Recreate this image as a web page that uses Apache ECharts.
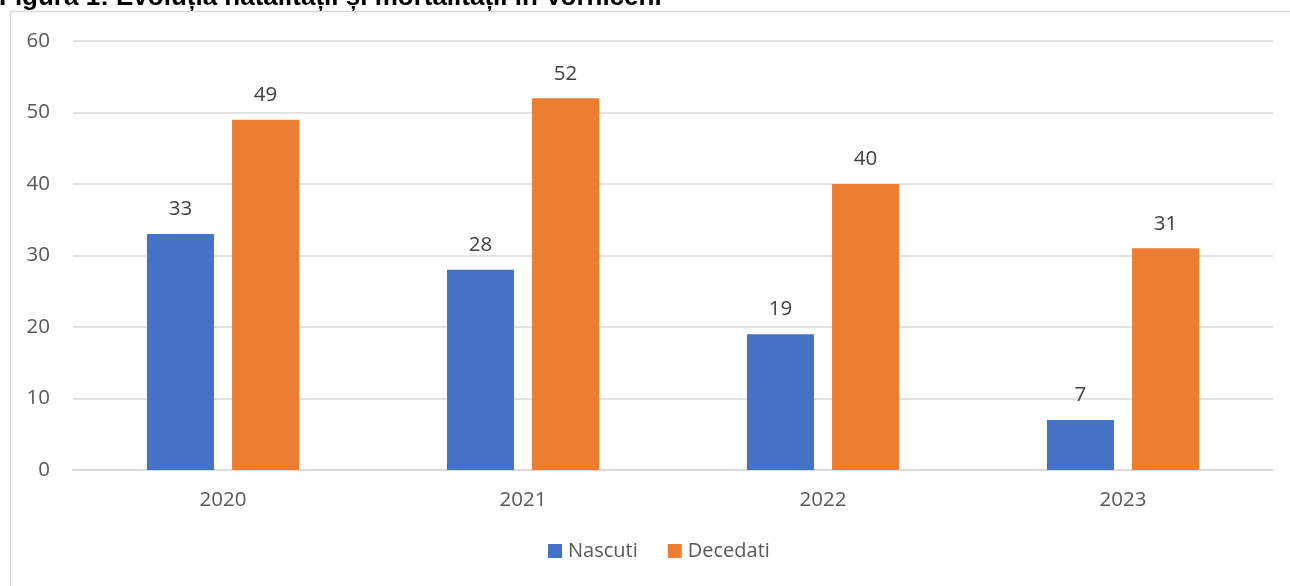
<!DOCTYPE html>
<html>
<head>
<meta charset="utf-8">
<script src="https://cdn.jsdelivr.net/npm/echarts@6/dist/echarts.min.js"></script>
<style>
  html, body { margin: 0; padding: 0; background: #fff; }
  #chart { width: 1290px; height: 586px; }
</style>
</head>
<body>
<div id="chart"></div>
<script>
const years = ['2020', '2021', '2022', '2023']
const nascuti = [33, 28, 19, 7]
const decedati = [49, 52, 40, 31]
const yTicks = { min: 0, max: 60, interval: 10 }

const labelFont = '"Open Sans", "Noto Sans", sans-serif'

const myChart = echarts.init(document.getElementById('chart'))

const options = {
    backgroundColor: '#fff',
    animation: false,
    title: {
        text: 'Figura 1: Evoluția natalității și mortalității în Vorniceni',
        left: -1,
        top: -15,
        padding: 0,
        textStyle: {
            fontFamily: '"Liberation Sans", Arial, sans-serif',
            fontWeight: 'bold',
            fontSize: 26,
            color: '#000',
        },
    },
    graphic: [
        {
            type: 'rect',
            shape: { x: 10.5, y: 11.5, width: 1300, height: 600 },
            style: { fill: 'none', stroke: '#d9d9d9', lineWidth: 1.5 },
            z: -1,
        },
    ],
    grid: { left: 73, right: 17, top: 41, bottom: 116 },
    legend: {
        bottom: 20,
        left: 543,
        itemWidth: 14,
        itemHeight: 14,
        itemGap: 30,
        icon: 'rect',
        textStyle: { fontFamily: labelFont, fontSize: 20, color: '#595959', padding: [0, 0, 0, 1] },
        data: ['Nascuti', 'Decedati'],
    },
    xAxis: {
        type: 'category',
        data: years,
        axisLine: { lineStyle: { color: '#d9d9d9', width: 1.5 } },
        axisTick: { show: false },
        axisLabel: { fontFamily: labelFont, fontSize: 20.5, color: '#595959', margin: 20 },
    },
    yAxis: {
        type: 'value',
        min: yTicks.min,
        max: yTicks.max,
        interval: yTicks.interval,
        axisLine: { show: false },
        axisTick: { show: false },
        splitLine: { lineStyle: { color: '#d9d9d9', width: 1.5 } },
        axisLabel: { fontFamily: labelFont, fontSize: 20.5, color: '#595959', margin: 23 },
    },
    series: [
        {
            name: 'Nascuti',
            type: 'bar',
            data: nascuti,
            barWidth: 67,
            barGap: '27%',
            itemStyle: { color: '#4472c4' },
            label: { show: true, position: 'top', distance: 14, fontFamily: labelFont, fontSize: 20.5, color: '#404040' },
        },
        {
            name: 'Decedati',
            type: 'bar',
            data: decedati,
            barWidth: 67,
            barGap: '27%',
            itemStyle: { color: '#ed7d31' },
            label: { show: true, position: 'top', distance: 14, fontFamily: labelFont, fontSize: 20.5, color: '#404040' },
        },
    ],
}

myChart.setOption(options)
</script>
</body>
</html>
